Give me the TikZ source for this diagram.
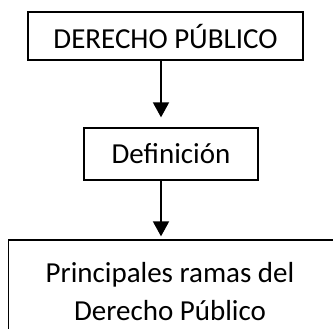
\documentclass[tikz,border=0pt]{standalone}
\usepackage{fontspec}
\setmainfont{Carlito}
\usetikzlibrary{arrows.meta}
\usetikzlibrary{positioning}

\begin{document}
\begin{tikzpicture}[>={Triangle[length=15bp,width=16bp]},line join=miter,
  boxline/.style={line width=1.3bp},
  box/.style={draw,boxline,inner sep=0pt,font=\fontsize{29bp}{38bp}\selectfont},
  link/.style={->,line width=1.8bp}]
\clip (0,0) rectangle (333bp,-329bp);
%%
\node (derecho) at (165.5bp,-36bp) [box,minimum width=275bp,minimum height=48bp] {DERECHO PÚBLICO};
\node (definicion) at (171bp,-154bp) [box,minimum width=174bp,minimum height=52bp] {Definición};
\node (ramas) at (170bp,-292bp) [box,draw=none,minimum height=104bp,align=center] {Principales ramas del\\Derecho Público};
\coordinate (corner) at (8.5bp,-240bp);
\draw [boxline] (corner) rectangle ++(340bp,-110bp);
\coordinate (axis) at (161bp,0);
%
\draw [link,shorten >=10bp] (derecho.south -| axis) -- (definicion.north -| axis);
\draw [link,shorten >=3bp] (definicion.south -| axis) -- (ramas.north -| axis);
%
\end{tikzpicture}
\end{document}
